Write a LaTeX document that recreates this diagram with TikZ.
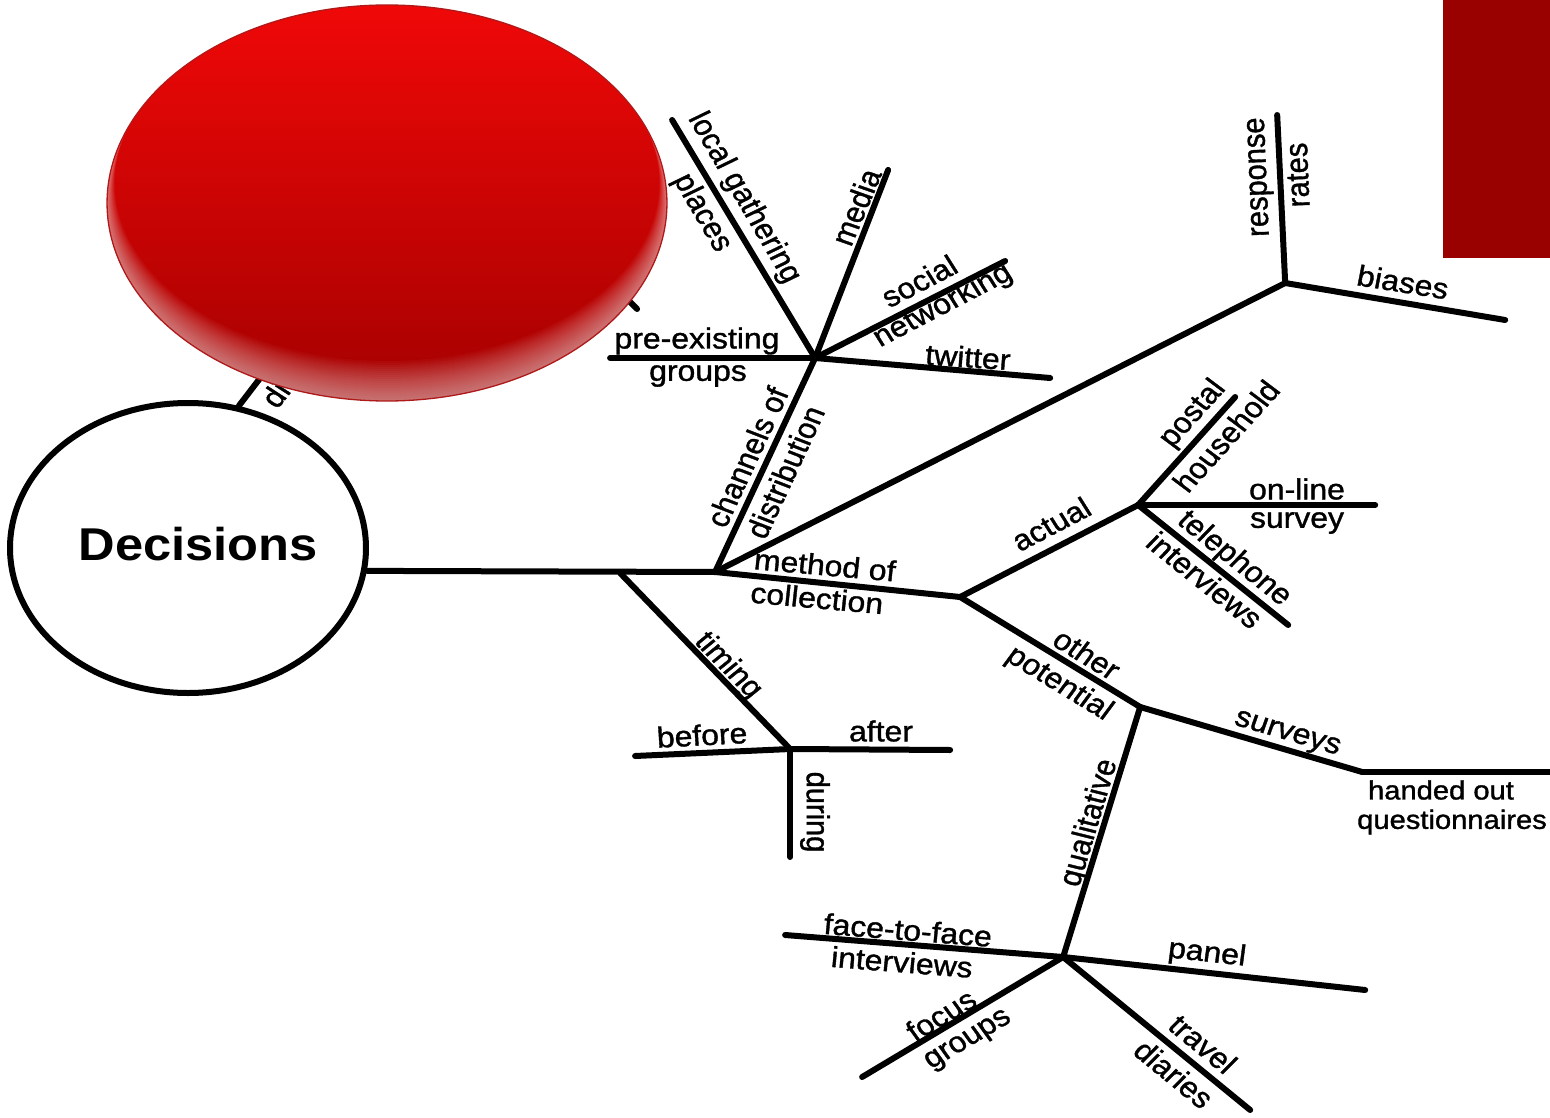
\documentclass[tikz,border=0pt]{standalone}
\usepackage{fontspec}
\setmainfont{Liberation Sans}
\newfontfamily\lblfont{Liberation Sans}[FakeBold=1.2]
\usetikzlibrary{shapes.geometric}
\definecolor{ballTop}{RGB}{240,8,8}
\definecolor{ballMid}{RGB}{208,0,0}
\definecolor{ballBot}{RGB}{165,0,0}
\definecolor{ballEdge}{RGB}{175,25,25}
\definecolor{boxRed}{RGB}{153,0,0}
\begin{document}
\begin{tikzpicture}[x=1pt,y=-1pt,
  br/.style={line width=6pt, line cap=round, line join=round},
  lbl/.style={font=\lblfont\fontsize{29}{29}\selectfont, inner sep=0pt},
  rim/.style={white, opacity=0.03, even odd rule},
]
\useasboundingbox (0,0) rectangle (1550,1118);
\fill[white] (0,0) rectangle (1550,1118);

\begin{scope}[x=0.9090909pt, xscale=1.1, transform shape]
% central ellipse
\node[draw, ellipse, line width=6pt, minimum width=323.6pt, minimum height=290pt, inner sep=0pt] (dec) at (188,548) {};
\node[inner sep=0pt, font=\bfseries\fontsize{46}{46}\selectfont] (dectxt) at (198,544) {Decisions};

% hubs and ends
\coordinate (t1) at (620,573);
\coordinate (h1) at (715,572);
\coordinate (h2) at (960,597);
\coordinate (ht) at (790,749);
\coordinate (before) at (635,756);
\coordinate (after) at (950,750);
\coordinate (during) at (790,857);
\coordinate (hc) at (815,358);
\coordinate (pre) at (610,358);
\coordinate (loc) at (672,120);
\coordinate (med) at (888,170);
\coordinate (soc) at (1005,261);
\coordinate (twi) at (1050,378);
\coordinate (hr) at (1285,283);
\coordinate (resp) at (1277,115);
\coordinate (bia) at (1505,320);
\coordinate (ha) at (1138,505);
\coordinate (post) at (1235,397);
\coordinate (onl) at (1375,505);
\coordinate (tel) at (1288,625);
\coordinate (ho) at (1140,707);
\coordinate (hs) at (1362,772);
\coordinate (hand) at (1556,772);
\coordinate (hq) at (1063,957);
\coordinate (f2f) at (785,935);
\coordinate (pan) at (1365,990);
\coordinate (foc) at (862,1077);
\coordinate (tra) at (1250,1110);
\coordinate (hid) at (320,300);
\coordinate (tk1) at (600,272);
\coordinate (tk2) at (637,309);

% branches
\draw[br] (dec.-8.5) -- (h1);
\draw[br] (h1) -- (h2);
\draw[br] (t1) -- (ht);
\draw[br] (ht) -- (before);
\draw[br] (ht) -- (after);
\draw[br] (ht) -- (during);
\draw[br] (h1) -- (hc);
\draw[br] (hc) -- (pre);
\draw[br] (hc) -- (loc);
\draw[br] (hc) -- (med);
\draw[br] (hc) -- (soc);
\draw[br] (hc) -- (twi);
\draw[br] (h1) -- (hr);
\draw[br] (hr) -- (resp);
\draw[br] (hr) -- (bia);
\draw[br] (h2) -- (ha);
\draw[br] (ha) -- (post);
\draw[br] (ha) -- (onl);
\draw[br] (ha) -- (tel);
\draw[br] (h2) -- (ho);
\draw[br] (ho) -- (hs);
\draw[br] (hs) -- (hand);
\draw[br] (ho) -- (hq);
\draw[br] (hq) -- (f2f);
\draw[br] (hq) -- (pan);
\draw[br] (hq) -- (foc);
\draw[br] (hq) -- (tra);
\draw[br] (dec.72) -- (hid);
\draw[br] (tk1) -- (tk2);

% labels
\node[lbl, rotate=-5.5] (l-meth) at (825,565) {method of};
\node[lbl, rotate=-5.5] (l-coll) at (817,598) {collection};
\node[lbl, rotate=67] (l-chan) at (747,457) {channels of};
\node[lbl, rotate=67] (l-dist) at (785,472) {distribution};
\node[lbl, rotate=-48.2] (l-tim) at (728,666) {timing};
\node[lbl, rotate=3.3] (l-bef) at (702,735) {before};
\node[lbl] (l-aft) at (881,731) {after};
\node[lbl, rotate=-90] (l-dur) at (815,812) {during};
\node[lbl] (l-pre) at (697,341) {pre-existing};
\node[lbl] (l-grp) at (698,376) {groups};
\node[lbl, rotate=-61.9] (l-loc) at (744,198) {local gathering};
\node[lbl, rotate=-61.9] (l-pla) at (702,213) {places};
\node[lbl, rotate=68.9] (l-med) at (856,207) {media};
\node[lbl, rotate=29.8] (l-soc) at (919,281) {social};
\node[lbl, rotate=29.8] (l-net) at (943,306) {networking};
\node[lbl, rotate=-4.1] (l-twi) at (968,357) {twitter};
\node[lbl, rotate=92.2] (l-resp) at (1261,177) {response};
\node[lbl, rotate=92.2] (l-rat) at (1298,175) {rates};
\node[lbl, rotate=-9.9] (l-bia) at (1403,282) {biases};
\node[lbl, rotate=29.8] (l-act) at (1051,524) {actual};
\node[lbl, rotate=-33.9] (l-oth) at (1087,654) {other};
\node[lbl, rotate=-33.9] (l-pot) at (1059,684) {potential};
\node[lbl, rotate=50.5] (l-pos) at (1193,414) {postal};
\node[lbl, rotate=50.5] (l-hou) at (1226,436) {household};
\node[lbl] (l-onl) at (1297,489) {on-line};
\node[lbl] (l-sur) at (1297,523) {survey};
\node[lbl, rotate=-41.2] (l-tel) at (1234,559) {telephone};
\node[lbl, rotate=-41.2] (l-int) at (1205,580) {interviews};
\node[lbl, rotate=-17.8] (l-svs) at (1287,735) {surveys};
\node[lbl, font=\lblfont\fontsize{26.5}{26.5}\selectfont] (l-hand) at (1441,790) {handed out};
\node[lbl, font=\lblfont\fontsize{26.5}{26.5}\selectfont] (l-quest) at (1452,822) {questionnaires};
\node[lbl, rotate=74.6] (l-qual) at (1090,823) {qualitative};
\node[lbl, rotate=-4.9] (l-f2f) at (908,930) {face-to-face};
\node[lbl, rotate=-4.9] (l-int2) at (902,962) {interviews};
\node[lbl, rotate=-6.8] (l-pan) at (1207,954) {panel};
\node[lbl, rotate=33.2] (l-foc) at (941,1015) {focus};
\node[lbl, rotate=33.2] (l-grp2) at (969,1041) {groups};
\node[lbl, rotate=-42] (l-tra) at (1203,1044) {travel};
\node[lbl, rotate=-42] (l-dia) at (1174,1074) {diaries};
\node[lbl, rotate=54.6, anchor=west] (l-dis) at (268,404) {dis};

% red ball covering part of the map
\shade[top color=ballTop, middle color=ballMid, bottom color=ballBot] (387,203) ellipse [x radius=254.5pt, y radius=198pt];
% soft light rim along the lower edge (many faint stacked crescents)
\foreach \s in {1,...,20} {
  \fill[rim] (387,203) ellipse [x radius=254.5pt, y radius=198pt]
             (387,203-\s) ellipse [x radius=254.5pt-0.35*\s pt, y radius=198pt-\s pt];
}
\draw[ballEdge, line width=1.3pt] (387,203) ellipse [x radius=254.5pt, y radius=198pt];
\end{scope}

% red box top right
\fill[boxRed] (1443,0) rectangle (1552,258);
\end{tikzpicture}
\end{document}
